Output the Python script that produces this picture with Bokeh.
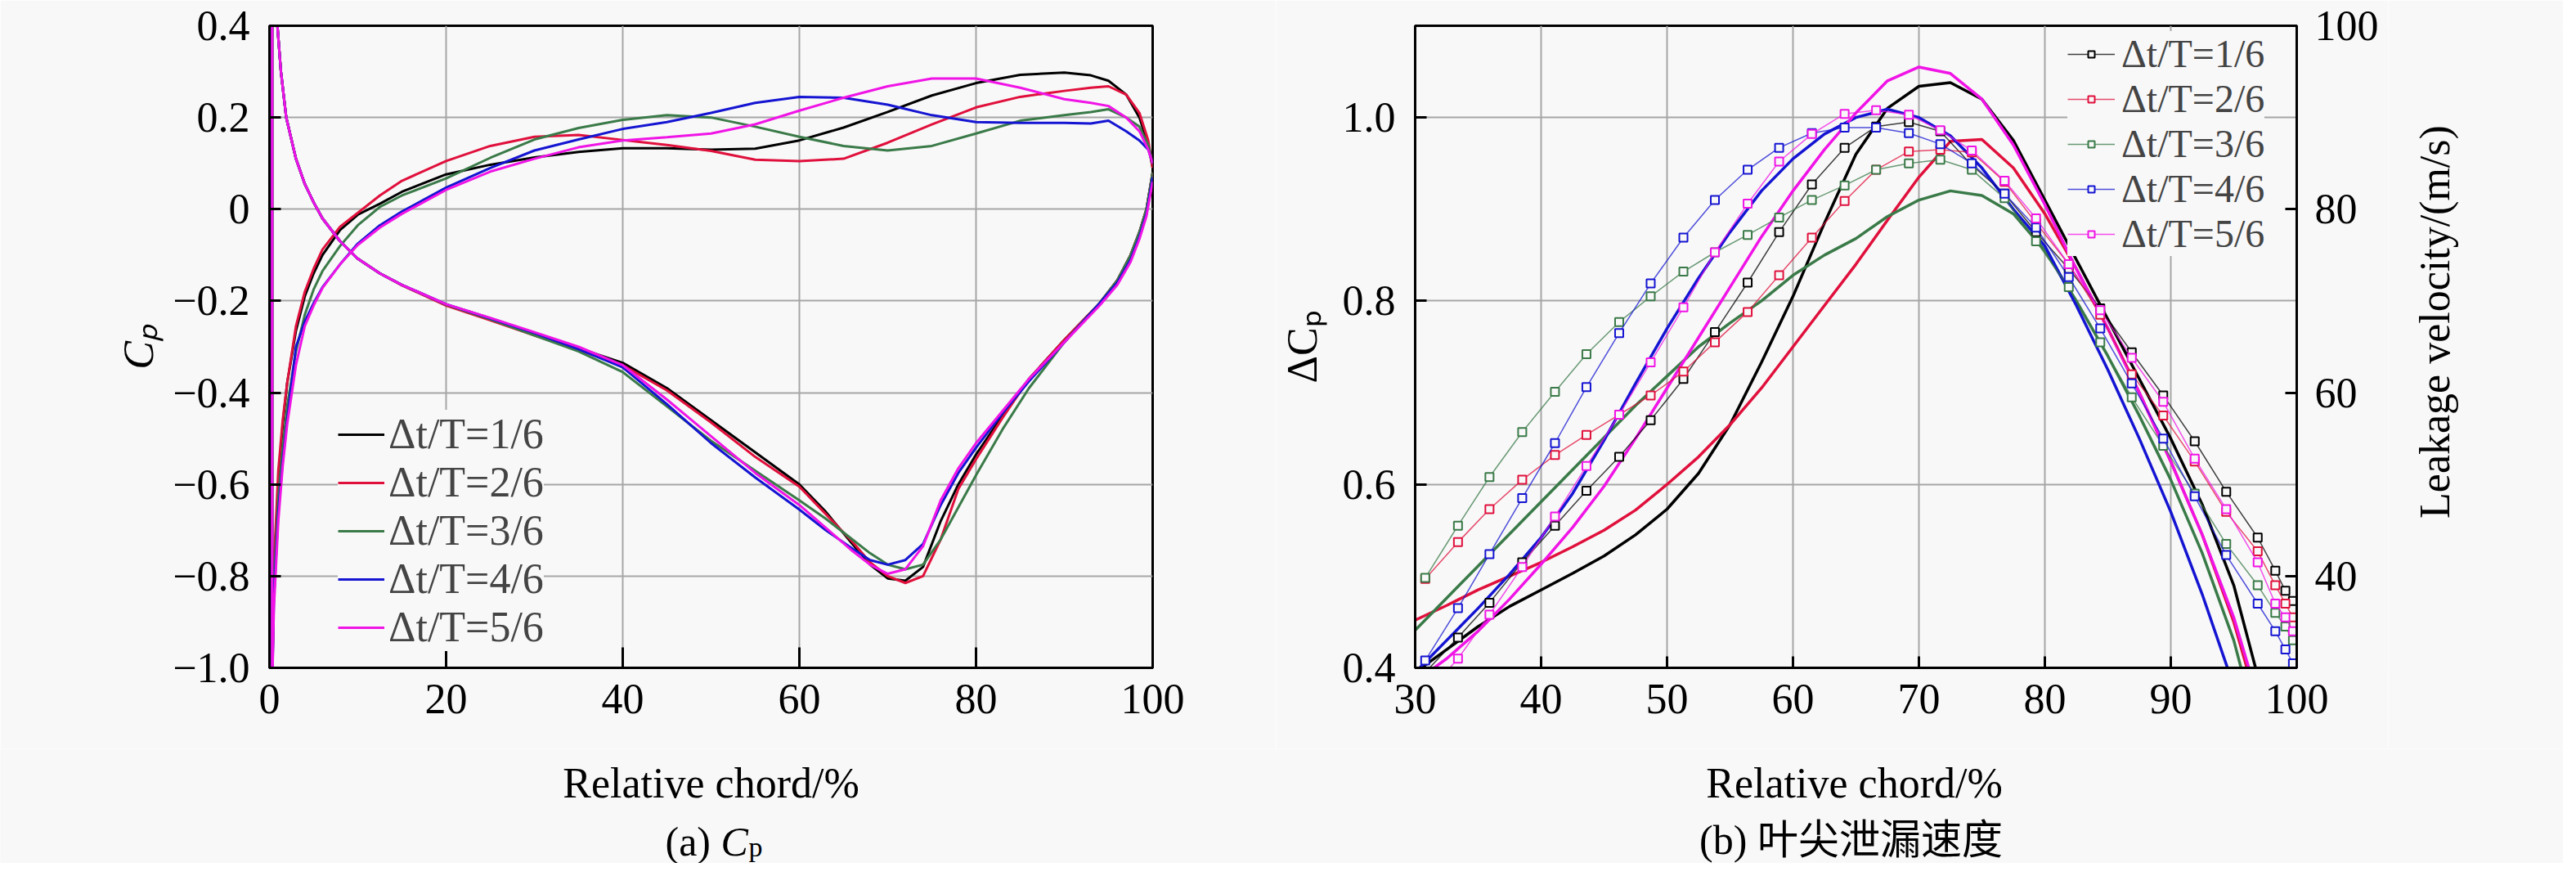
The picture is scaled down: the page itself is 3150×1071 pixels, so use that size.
import math
from bokeh.plotting import figure
from bokeh.models import (Range1d, LinearAxis, FixedTicker, CustomJSTickFormatter,
                          Legend, LegendItem)
from bokeh.layouts import row, column
from bokeh.core.properties import value
from bokeh.embed import file_html
from bokeh.resources import INLINE

# ---------------- data: (a) Cp ----------------
labels = ["Δt/T=1/6", "Δt/T=2/6", "Δt/T=3/6", "Δt/T=4/6", "Δt/T=5/6"]

# branch A (pressure side) x positions
cp_xa = [0.3, 0.9, 1.3, 1.9, 3, 4, 5, 6, 8, 10, 12.5, 15, 20, 25, 30, 35,
         40, 45, 50, 55, 60, 63, 66, 68, 70, 72, 74, 76, 78, 80, 83, 86, 90, 94, 96, 97.5, 98.5, 99.3, 100]
cp_a_1 = [0.45, 0.4, 0.3, 0.2, 0.11, 0.055, 0.015, -0.02, -0.07, -0.108, -0.14, -0.165, -0.208, -0.238, -0.27, -0.303,
          -0.335, -0.39, -0.46, -0.53, -0.6, -0.66, -0.73, -0.775, -0.805, -0.81, -0.78, -0.68, -0.6, -0.535, -0.45, -0.37, -0.285, -0.205, -0.155, -0.1, -0.05, 0.0, 0.08]
cp_a_2 = [0.45, 0.4, 0.3, 0.2, 0.11, 0.055, 0.015, -0.02, -0.07, -0.108, -0.14, -0.166, -0.21, -0.242, -0.275, -0.307,
          -0.34, -0.395, -0.465, -0.54, -0.605, -0.665, -0.725, -0.77, -0.8, -0.815, -0.8, -0.72, -0.61, -0.545, -0.455, -0.37, -0.285, -0.205, -0.155, -0.1, -0.05, 0.0, 0.08]
cp_a_3 = [0.45, 0.4, 0.3, 0.2, 0.11, 0.055, 0.015, -0.02, -0.07, -0.108, -0.14, -0.165, -0.208, -0.24, -0.275, -0.31,
          -0.355, -0.43, -0.505, -0.57, -0.635, -0.675, -0.72, -0.75, -0.775, -0.785, -0.775, -0.72, -0.65, -0.58, -0.48, -0.39, -0.29, -0.205, -0.155, -0.1, -0.05, 0.0, 0.08]
cp_a_4 = [0.45, 0.4, 0.3, 0.2, 0.11, 0.055, 0.015, -0.02, -0.07, -0.108, -0.14, -0.165, -0.207, -0.238, -0.27, -0.305,
          -0.345, -0.425, -0.51, -0.585, -0.655, -0.7, -0.74, -0.765, -0.775, -0.765, -0.73, -0.645, -0.575, -0.52, -0.445, -0.375, -0.29, -0.205, -0.16, -0.11, -0.06, -0.01, 0.07]
cp_a_5 = [0.45, 0.4, 0.3, 0.2, 0.11, 0.055, 0.015, -0.02, -0.07, -0.108, -0.14, -0.165, -0.207, -0.237, -0.268, -0.3,
          -0.34, -0.415, -0.495, -0.575, -0.645, -0.695, -0.745, -0.775, -0.795, -0.785, -0.735, -0.635, -0.565, -0.51, -0.44, -0.37, -0.29, -0.21, -0.165, -0.115, -0.065, -0.015, 0.06]

# branch B (suction side) x positions
cp_xb = [0.3, 0.5, 1, 1.5, 2, 3, 4, 5, 6, 8, 10, 12.5, 15, 20, 25, 30, 35, 40, 45, 50,
         55, 60, 65, 70, 75, 80, 85, 90, 93, 95, 97, 98.5, 99.5, 100]
cp_b_1 = [-1.05, -0.8, -0.6, -0.47, -0.38, -0.265, -0.19, -0.14, -0.1, -0.045, -0.012, 0.012, 0.038, 0.076, 0.097, 0.113, 0.125, 0.133, 0.133, 0.13,
          0.132, 0.15, 0.178, 0.212, 0.248, 0.275, 0.293, 0.298, 0.292, 0.28, 0.25, 0.2, 0.14, 0.09]
cp_b_2 = [-1.05, -0.78, -0.57, -0.46, -0.38, -0.255, -0.18, -0.13, -0.088, -0.038, -0.008, 0.03, 0.062, 0.105, 0.138, 0.158, 0.162, 0.151, 0.14, 0.127,
          0.108, 0.105, 0.11, 0.145, 0.185, 0.222, 0.245, 0.258, 0.265, 0.268, 0.25, 0.21, 0.15, 0.09]
cp_b_3 = [-1.05, -0.82, -0.63, -0.52, -0.43, -0.31, -0.23, -0.175, -0.135, -0.08, -0.035, 0.005, 0.03, 0.067, 0.112, 0.152, 0.177, 0.195, 0.205, 0.2,
          0.18, 0.158, 0.138, 0.128, 0.138, 0.165, 0.193, 0.205, 0.212, 0.218, 0.2, 0.18, 0.14, 0.1]
cp_b_4 = [-1.05, -0.85, -0.66, -0.55, -0.46, -0.3, -0.245, -0.205, -0.17, -0.12, -0.075, -0.035, -0.005, 0.047, 0.09, 0.128, 0.152, 0.175, 0.19, 0.21,
          0.232, 0.245, 0.243, 0.228, 0.205, 0.19, 0.188, 0.188, 0.187, 0.193, 0.17, 0.15, 0.13, 0.1]
cp_b_5 = [-1.05, -0.87, -0.68, -0.56, -0.47, -0.34, -0.255, -0.21, -0.172, -0.12, -0.078, -0.04, -0.01, 0.042, 0.082, 0.11, 0.135, 0.15, 0.157, 0.165,
          0.185, 0.215, 0.243, 0.268, 0.285, 0.285, 0.265, 0.24, 0.232, 0.225, 0.2, 0.17, 0.13, 0.1]

cp_xticks = [0, 20, 40, 60, 80, 100]
cp_yticks = [0.4, 0.2, 0.0, -0.2, -0.4, -0.6, -0.8, -1.0]

# ---------------- data: (b) tip leakage ----------------
dcp_x = [30, 32.5, 35, 37.5, 40, 42.5, 45, 47.5, 50, 52.5, 55, 57.5, 60, 62.5,
         65, 67.5, 70, 72.5, 75, 77.5, 80, 82.5, 85, 87.5, 90, 92.5, 95, 97.5]
dcp_1 = [0.395, 0.42, 0.445, 0.467, 0.485, 0.503, 0.522, 0.545, 0.573, 0.612, 0.665, 0.733, 0.805, 0.885,
         0.96, 1.01, 1.034, 1.038, 1.02, 0.975, 0.91, 0.845, 0.78, 0.715, 0.65, 0.578, 0.49, 0.36]
dcp_2 = [0.452, 0.468, 0.485, 0.5, 0.515, 0.532, 0.55, 0.572, 0.6, 0.63, 0.665, 0.705, 0.75, 0.795,
         0.84, 0.888, 0.935, 0.974, 0.976, 0.945, 0.895, 0.835, 0.77, 0.7, 0.625, 0.545, 0.45, 0.33]
dcp_3 = [0.441, 0.476, 0.511, 0.546, 0.581, 0.616, 0.651, 0.686, 0.718, 0.75, 0.776, 0.8, 0.828, 0.85,
         0.868, 0.892, 0.91, 0.92, 0.915, 0.895, 0.855, 0.8, 0.74, 0.675, 0.605, 0.525, 0.43, 0.3]
dcp_4 = [0.395, 0.43, 0.465, 0.502, 0.542, 0.59, 0.648, 0.71, 0.77, 0.825, 0.875, 0.92, 0.955, 0.982,
         1.0, 1.009, 1.0, 0.98, 0.945, 0.9, 0.86, 0.795, 0.725, 0.65, 0.57, 0.48, 0.38, 0.27]
dcp_5 = [0.385, 0.41, 0.44, 0.475, 0.513, 0.553, 0.598, 0.65, 0.705, 0.76, 0.815, 0.87, 0.92, 0.965,
         1.005, 1.04, 1.055, 1.048, 1.02, 0.97, 0.905, 0.835, 0.77, 0.7, 0.625, 0.545, 0.455, 0.34]

vel_x = [30.8, 33.4, 35.9, 38.5, 41.1, 43.6, 46.2, 48.7, 51.3, 53.8, 56.4, 58.9, 61.5, 64.1, 66.6,
         69.2, 71.7, 74.2, 76.8, 79.3, 81.9, 84.4, 86.9, 89.4, 91.9, 94.4, 96.9, 98.3, 99.1, 99.7]
vel_1 = [29.5, 33.3, 37.1, 41.5, 45.5, 49.3, 53.0, 57.0, 61.5, 66.6, 72.0, 77.5, 82.7, 86.7, 89.0,
         89.5, 88.5, 84.8, 81.7, 77.5, 73.5, 69.2, 64.4, 59.7, 54.7, 49.2, 44.2, 40.6, 38.4, 37.3]
vel_2 = [39.7, 43.7, 47.3, 50.5, 53.2, 55.4, 57.6, 59.7, 62.3, 65.5, 68.8, 72.8, 76.9, 80.9, 84.3,
         86.3, 86.5, 86.2, 83.0, 78.5, 74.0, 68.5, 62.0, 57.5, 52.5, 47.0, 42.7, 39.0, 37.0, 35.5]
vel_3 = [39.8, 45.5, 50.8, 55.7, 60.1, 64.2, 67.7, 70.5, 73.2, 75.3, 77.2, 79.1, 81.0, 82.6, 84.3,
         85.0, 85.4, 84.3, 81.2, 76.5, 71.5, 65.5, 59.5, 54.2, 49.0, 43.5, 39.0, 36.0, 34.5, 33.0]
vel_4 = [30.8, 36.5, 42.4, 48.5, 54.5, 60.6, 66.5, 71.9, 76.9, 81.0, 84.3, 86.7, 88.3, 88.9, 88.9,
         88.3, 87.1, 85.0, 81.7, 78.0, 72.6, 67.0, 61.0, 55.0, 48.7, 42.3, 37.0, 34.0, 32.0, 30.5]
vel_5 = [27.0, 31.0, 35.8, 41.0, 46.5, 52.0, 57.6, 63.3, 69.3, 75.3, 80.6, 85.2, 88.2, 90.4, 90.8,
         90.3, 88.6, 86.4, 83.1, 79.0, 74.0, 69.0, 63.8, 59.0, 52.8, 47.3, 41.5, 37.0, 35.5, 34.0]

b_xticks = [30, 40, 50, 60, 70, 80, 90, 100]
b_yticks = [0.4, 0.6, 0.8, 1.0]
vel_ticks = [40, 60, 80, 100]

x_title = "Relative chord/%"
v_title = "Leakage velocity/(m/s)"
cap_b = "(b) 叶尖泄漏速度"

# ---------------- styling ----------------
FONT = "Liberation Serif"
CAPFONT = "'Liberation Serif', 'Noto Sans CJK SC'"
BG = "#f8f8f8"
GRID = "#a6a6a6"
colors = ["#000000", "#e0103c", "#3a7a48", "#1414d2", "#f014e6"]
FS = "52px"
H1 = 915          # height of the plot row
H2 = 140          # height of the caption strip
TOP = 31
BOTTOM = 99
W1, W2, W3 = 1560, 1360, 214


def style_axis(ax, standoff, label_standoff):
    ax.axis_line_width = 3
    ax.axis_line_color = "black"
    ax.major_tick_in = 14
    ax.major_tick_out = 0
    ax.major_tick_line_width = 3
    ax.minor_tick_line_color = None
    ax.major_label_text_font = FONT
    ax.major_label_text_font_size = FS
    ax.major_label_text_color = "black"
    ax.major_label_standoff = standoff
    ax.axis_label_text_font = FONT
    ax.axis_label_text_font_size = FS
    ax.axis_label_text_font_style = "normal"
    ax.axis_label_text_color = "black"
    ax.axis_label_standoff = label_standoff


def base_fig(width, xr, yr, mbl, mbr):
    p = figure(width=width, height=H1, x_range=xr, y_range=yr,
               output_backend="svg", toolbar_location=None,
               min_border_left=mbl, min_border_right=mbr,
               min_border_top=TOP, min_border_bottom=BOTTOM,
               background_fill_color=BG, border_fill_color=BG,
               outline_line_color="black", outline_line_width=3)
    p.xgrid.grid_line_color = GRID
    p.ygrid.grid_line_color = GRID
    p.xgrid.grid_line_width = 2
    p.ygrid.grid_line_width = 2
    return p


def blank_fig(width, height):
    p = figure(width=width, height=height, x_range=Range1d(0, width), y_range=Range1d(0, height),
               output_backend="svg", toolbar_location=None, title=None,
               x_axis_type=None, y_axis_type=None,
               min_border=0, background_fill_color=BG, border_fill_color=BG,
               outline_line_color=None)
    p.grid.visible = False
    return p


# ---------------- (a) ----------------
p1 = base_fig(W1, Range1d(0, 100), Range1d(-1.0, 0.4), 329, 151)
p1.xaxis.ticker = FixedTicker(ticks=cp_xticks)
p1.yaxis.ticker = FixedTicker(ticks=cp_yticks)
p1.yaxis.formatter = CustomJSTickFormatter(code="""
if (Math.abs(tick) < 1e-9) return '0';
const s = Math.abs(tick).toFixed(1);
return tick < 0 ? '\u2212' + s : s;
""")
style_axis(p1.xaxis[0], 20, 10)
style_axis(p1.yaxis[0], 24, 10)
p1.xaxis.major_tick_in = 25
p1.yaxis.axis_label = "Cₚ"
p1.yaxis.axis_label_text_font_style = "italic"

a_series = [cp_a_1, cp_a_2, cp_a_3, cp_a_4, cp_a_5]
b_series = [cp_b_1, cp_b_2, cp_b_3, cp_b_4, cp_b_5]
items1 = []
for i in range(5):
    xs = list(reversed(cp_xb)) + cp_xa
    ys = list(reversed(b_series[i])) + a_series[i]
    r = p1.line(xs, ys, line_color=colors[i], line_width=3)
    items1.append(LegendItem(label=labels[i], renderers=[r]))

leg1 = Legend(items=items1, location=(84, 20))
leg1.label_text_font = FONT
leg1.label_text_font_size = "52px"
leg1.glyph_width = 57
leg1.glyph_height = 20
leg1.label_standoff = 5
leg1.spacing = 0
leg1.padding = 5
leg1.margin = 0
leg1.background_fill_color = BG
leg1.background_fill_alpha = 1.0
leg1.border_line_color = None
p1.add_layout(leg1)

# ---------------- (b) ----------------
p2 = base_fig(W2, Range1d(30, 100), Range1d(0.4, 1.1), 167, 112)
p2.extra_y_ranges = {"v": Range1d(30, 100)}
p2.xaxis.ticker = FixedTicker(ticks=b_xticks)
p2.yaxis.ticker = FixedTicker(ticks=b_yticks)
p2.yaxis.formatter = CustomJSTickFormatter(code="return tick.toFixed(1);")
style_axis(p2.xaxis[0], 20, 10)
style_axis(p2.yaxis[0], 24, 18)
p2.yaxis.axis_label = "ΔCₚ"

rax = LinearAxis(y_range_name="v", ticker=FixedTicker(ticks=vel_ticks))
style_axis(rax, 22, 10)
p2.add_layout(rax, "right")

frame_h = H1 - TOP - BOTTOM
dcp_series = [dcp_1, dcp_2, dcp_3, dcp_4, dcp_5]
vel_series = [vel_1, vel_2, vel_3, vel_4, vel_5]
items2 = []
for i in range(5):
    p2.line(dcp_x, dcp_series[i], line_color=colors[i], line_width=3.5)
for i in range(5):
    rl = p2.line(vel_x, vel_series[i], y_range_name="v", line_color=colors[i],
                 line_width=1.5, line_alpha=0.75)
    rs = p2.scatter(vel_x, vel_series[i], y_range_name="v", marker="square", size=10,
                    line_color=colors[i], line_width=2, fill_color=BG)
    items2.append(LegendItem(label=labels[i], renderers=[rl, rs]))

leg2 = Legend(items=items2, location=(798, frame_h - 282))
leg2.label_text_font = FONT
leg2.label_text_font_size = "48px"
leg2.glyph_width = 58
leg2.glyph_height = 20
leg2.label_standoff = 8
leg2.spacing = 0
leg2.padding = 5
leg2.margin = 0
leg2.background_fill_color = BG
leg2.background_fill_alpha = 1.0
leg2.border_line_color = None
p2.add_layout(leg2)

# ---------------- right-axis title (reads bottom to top) ----------------
p3 = blank_fig(W3, H1)
p3.text(x=[57], y=[H1 - 422], text=[v_title], angle=math.pi / 2,
        text_align="center", text_baseline="middle",
        text_font=value(FONT), text_font_size=value(FS), text_color="black")

# ---------------- bottom strip: x titles and captions ----------------
strip = blank_fig(W1 + W2 + W3, H2)
strip.text(x=[869, 1560 + 707], y=[98, 98], text=[x_title, x_title],
           text_align="center", text_baseline="alphabetic",
           text_font=value(FONT), text_font_size=value(FS), text_color="black")
# caption (a): "(a) " + italic C + subscript p
strip.text(x=[813], y=[27], text=["(a) "], text_align="left", text_baseline="alphabetic",
           text_font=value(FONT), text_font_size=value("50px"), text_color="black")
strip.text(x=[881], y=[27], text=["C"], text_align="left", text_baseline="alphabetic",
           text_font=value(FONT), text_font_size=value("50px"), text_font_style="italic",
           text_color="black")
strip.text(x=[915], y=[20], text=["p"], text_align="left", text_baseline="alphabetic",
           text_font=value(FONT), text_font_size=value("34px"), text_color="black")
strip.text(x=[1560 + 703], y=[29], text=[cap_b], text_align="center", text_baseline="alphabetic",
           text_font=value(CAPFONT), text_font_size=value("50px"), text_color="black")

layout = column(row(p1, p2, p3), strip)
open("out.html", "w").write(file_html(layout, INLINE))
